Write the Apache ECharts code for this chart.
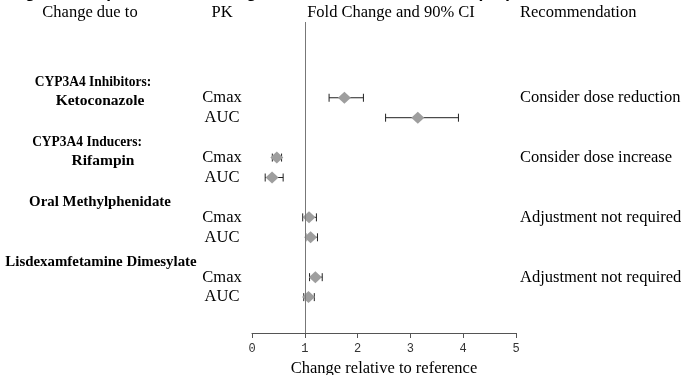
<!DOCTYPE html>
<html lang="en">
<head>
    <meta charset="UTF-8">
    <title>Fold Change and 90% CI</title>
    <script src="https://cdn.jsdelivr.net/npm/echarts@6/dist/echarts.min.js"></script>
    <style>
        html, body { margin: 0; padding: 0; background: #fff; }
        #chart { width: 681px; height: 375px; }
    </style>
</head>
<body>
<div id="chart"></div>
<script>
    // 数据
    const groupTitles = ['CYP3A4 Inhibitors:', 'CYP3A4 Inducers:', 'Oral Methylphenidate', 'Lisdexamfetamine Dimesylate'];
    const groupSubtitles = ['Ketoconazole', 'Rifampin', '', ''];
    const recommendations = ['Consider dose reduction', 'Consider dose increase', 'Adjustment not required', 'Adjustment not required'];
    const pkParams = ['Cmax', 'AUC', 'Cmax', 'AUC', 'Cmax', 'AUC', 'Cmax', 'AUC'];
    const rowPos = [1, 2, 4, 5, 7, 8, 10, 11];
    const foldChange = [1.75, 3.14, 0.47, 0.38, 1.08, 1.11, 1.20, 1.07];
    const ciLow = [1.46, 2.53, 0.385, 0.25, 0.96, 1.02, 1.09, 0.98];
    const ciHigh = [2.11, 3.91, 0.56, 0.59, 1.22, 1.24, 1.33, 1.18];
    const xTicks = [0, 1, 2, 3, 4, 5];

    const serif = '"Liberation Serif", "Times New Roman", serif';
    const myChart = echarts.init(document.getElementById('chart'));

    const option = {
        animation: false,
        grid: {left: 252, right: 165, top: 22, bottom: 42, containLabel: false, outerBoundsMode: 'none'},
        xAxis: {
            type: 'value',
            min: xTicks[0],
            max: xTicks[xTicks.length - 1],
            interval: 1,
            name: 'Change relative to reference',
            nameLocation: 'middle',
            nameGap: 23,
            nameTextStyle: {fontFamily: serif, fontSize: 16.5, color: '#000'},
            axisLine: {onZero: false, lineStyle: {color: '#555', width: 1}},
            axisTick: {show: true, length: 5, lineStyle: {color: '#555'}},
            axisLabel: {fontFamily: '"Liberation Mono", monospace', fontSize: 12, color: '#333', margin: 10},
            splitLine: {show: false}
        },
        yAxis: {
            type: 'value',
            inverse: true,
            min: -2.8,
            max: 12.8,
            show: false
        },
        series: [
            {
                type: 'custom',
                renderItem: function (params, api) {
                    const y = api.value(0);
                    const p1 = api.coord([api.value(1), y]);
                    const p2 = api.coord([api.value(2), y]);
                    const h = 4;
                    const style = {stroke: '#222', lineWidth: 1};
                    return {
                        type: 'group',
                        children: [
                            {type: 'line', shape: {x1: p1[0], y1: p1[1], x2: p2[0], y2: p2[1]}, style: style},
                            {type: 'line', shape: {x1: p1[0], y1: p1[1] - h, x2: p1[0], y2: p1[1] + h}, style: style},
                            {type: 'line', shape: {x1: p2[0], y1: p2[1] - h, x2: p2[0], y2: p2[1] + h}, style: style}
                        ]
                    };
                },
                encode: {x: [1, 2], y: 0},
                data: rowPos.map((r, i) => [r, ciLow[i], ciHigh[i]]),
                z: 2
            },
            {
                type: 'scatter',
                symbol: 'diamond',
                symbolSize: [13, 12],
                itemStyle: {color: '#9e9e9e', opacity: 1},
                data: rowPos.map((r, i) => [foldChange[i], r]),
                z: 3,
                markLine: {
                    silent: true,
                    symbol: 'none',
                    label: {show: false},
                    lineStyle: {color: '#777', width: 1, type: 'solid'},
                    data: [{xAxis: 1}]
                }
            }
        ]
    };
    myChart.setOption(option);

    // 文字标签，根据y轴换算位置
    const yPix = v => myChart.convertToPixel({yAxisIndex: 0}, v);
    const txt = (x, yv, text, align, bold, sx) => ({
        type: 'text',
        x: x,
        y: yPix(yv),
        scaleX: sx || 1,
        scaleY: 1,
        style: {
            text: text,
            fill: '#000',
            font: (bold ? 'bold 15.5px ' : '16.5px ') + serif,
            textAlign: align,
            textVerticalAlign: 'middle'
        }
    });

    const graphics = [];
    // 被截掉的标题
    graphics.push({
        type: 'text', x: 10, y: -15,
        style: {
            text: 'Figure 1: Impact of Other Drugs on the Pharmacokinetics (PK) of SPN-812',
            fill: '#000',
            font: 'bold 17px "Liberation Sans", Arial, sans-serif'
        }
    });
    // 表头
    const headY = -3.25;
    graphics.push(txt(90, headY, 'Change due to', 'center', false));
    graphics.push(txt(222, headY, 'PK', 'center', false));
    graphics.push(txt(391, headY, 'Fold Change and 90% CI', 'center', false));
    graphics.push(txt(520, headY, 'Recommendation', 'left', false));

    const titleX = [93, 87, 100, 101];
    for (let g = 0; g < groupTitles.length; g++) {
        const r = rowPos[g * 2];
        if (groupSubtitles[g]) {
            graphics.push(txt(titleX[g], r - 0.8, groupTitles[g], 'center', true, 0.87));
            graphics.push(txt(g === 0 ? 100 : 103, r + 0.15, groupSubtitles[g], 'center', true));
        } else {
            graphics.push(txt(titleX[g], r - 0.75, groupTitles[g], 'center', true, 0.96));
        }
        graphics.push(txt(520, r, recommendations[g], 'left', false));
    }
    for (let i = 0; i < pkParams.length; i++) {
        graphics.push(txt(222, rowPos[i], pkParams[i], 'center', false));
    }
    myChart.setOption({graphic: graphics});
</script>
</body>
</html>
